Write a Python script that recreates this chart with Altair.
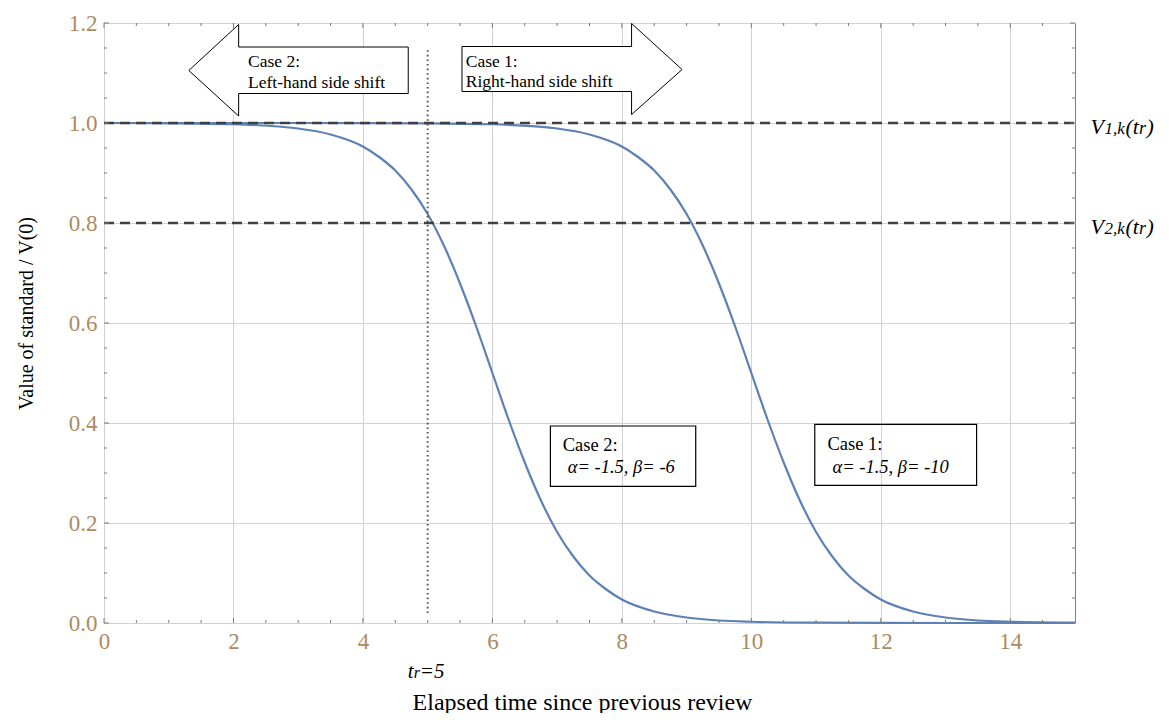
import altair as alt
import pandas as pd

# ---------------- data ----------------
case2_x = [0, 1, 2, 3, 3.5, 4, 4.25, 4.5, 4.75, 5, 5.25, 5.5, 5.75, 6, 6.25, 6.5, 6.75,
           7, 7.25, 7.5, 7.75, 8, 8.5, 9, 9.5, 10, 11, 12, 13, 14, 15]
case2_v = [1.0, 0.9994, 0.9975, 0.989, 0.977, 0.953, 0.932, 0.905, 0.867, 0.818, 0.755,
           0.679, 0.593, 0.5, 0.407, 0.321, 0.245, 0.182, 0.133, 0.095, 0.068, 0.047,
           0.023, 0.011, 0.005, 0.0025, 0.0006, 0.0001, 0.0, 0.0, 0.0]

case1_x = [0, 2, 4, 5, 6, 7, 7.5, 8, 8.25, 8.5, 8.75, 9, 9.25, 9.5, 9.75, 10, 10.25, 10.5,
           10.75, 11, 11.25, 11.5, 11.75, 12, 12.5, 13, 13.5, 14, 15]
case1_v = [1.0, 1.0, 0.9999, 0.9994, 0.9975, 0.989, 0.977, 0.953, 0.932, 0.905, 0.867,
           0.818, 0.755, 0.679, 0.593, 0.5, 0.407, 0.321, 0.245, 0.182, 0.133, 0.095,
           0.068, 0.047, 0.023, 0.011, 0.005, 0.0025, 0.0006]

ref_levels = [1.0, 0.8]
tr_value = 5
dotted_lo, dotted_hi = 0.02, 1.15

x_major = [0, 2, 4, 6, 8, 10, 12, 14]
x_minor = [0.5, 1, 1.5, 2.5, 3, 3.5, 4.5, 5, 5.5, 6.5, 7, 7.5, 8.5, 9, 9.5,
           10.5, 11, 11.5, 12.5, 13, 13.5, 14.5]
y_major = [0, 0.2, 0.4, 0.6, 0.8, 1.0, 1.2]
y_minor = [0.05, 0.1, 0.15, 0.25, 0.3, 0.35, 0.45, 0.5, 0.55, 0.65, 0.7, 0.75,
           0.85, 0.9, 0.95, 1.05, 1.1, 1.15]

# arrows (outline vertices, data units)
left_arrow_x = [4.70, 2.08, 2.08, 1.31, 2.08, 2.08, 4.70, 4.70]
left_arrow_y = [1.152, 1.152, 1.197, 1.105, 1.014, 1.059, 1.059, 1.152]
right_arrow_x = [5.53, 8.15, 8.15, 8.93, 8.15, 8.15, 5.53, 5.53]
right_arrow_y = [1.153, 1.153, 1.199, 1.107, 1.017, 1.063, 1.063, 1.153]

arrow_text = ["Case 2:", "Left-hand side shift", "Case 1:", "Right-hand side shift"]
arrow_text_x = [2.225, 2.225, 5.588, 5.588]
arrow_text_y = [1.113, 1.071, 1.113, 1.072]

box_x1 = [6.896, 10.98]
box_x2 = [9.141, 13.48]
box_y1 = [0.394, 0.3974]
box_y2 = [0.2734, 0.2754]
box_head = ["Case 2:", "Case 1:"]
box_head_x = [7.087, 11.176]
box_head_y = [0.344, 0.3454]
box_param = ["\u03b1= -1.5, \u03b2= -6", "\u03b1= -1.5, \u03b2= -10"]
box_param_x = [7.164, 11.253]
box_param_y = [0.2994, 0.300]

W, H = 971, 600
SERIF = "Liberation Serif"
TICKCOL = "#7a7a7a"
LABELCOL = "#ad8a62"

xs = alt.Scale(domain=[0, 15], nice=False, zero=False)
ys = alt.Scale(domain=[0, 1.2], nice=False, zero=False)

x_axis = alt.Axis(values=x_major, format="d", title="Elapsed time since previous review",
                  grid=True, gridColor="#d2d2d2", gridWidth=1, domain=False, ticks=False,
                  labelFont=SERIF, labelFontSize=23, labelColor=LABELCOL, labelPadding=7,
                  labelFlush=False, labelOverlap=False,
                  titleFont=SERIF, titleFontSize=24, titleFontWeight="normal", titleColor="black",
                  titleX=478, titleY=86, titleBaseline="alphabetic")
y_axis = alt.Axis(values=y_major, format=".1f", title="Value of standard / V(0)",
                  grid=True, gridColor="#d2d2d2", gridWidth=1, domain=False, ticks=False,
                  labelFont=SERIF, labelFontSize=23, labelColor=LABELCOL, labelPadding=7,
                  labelFlush=False, labelOverlap=False,
                  titleFont=SERIF, titleFontSize=20, titleFontWeight="normal", titleColor="black",
                  titleX=-72, titleY=290, titleAngle=270, titleBaseline="alphabetic")


def X(field):
    return alt.X(field, scale=xs, axis=x_axis)


def Y(field):
    return alt.Y(field, scale=ys, axis=y_axis)


curves = pd.concat([
    pd.DataFrame({"x": case2_x, "v": case2_v, "series": "Case 2"}),
    pd.DataFrame({"x": case1_x, "v": case1_v, "series": "Case 1"}),
])

curve_layer = alt.Chart(curves).mark_line(color="#5e81b5", strokeWidth=2.2, interpolate="monotone").encode(
    x=X("x:Q"), y=Y("v:Q"), detail="series:N",
)

ref_df = pd.DataFrame({"lvl": ref_levels})
dashed = alt.Chart(ref_df).mark_rule(color="#404040", strokeWidth=2.3, strokeDash=[10, 6]).encode(
    y=Y("lvl:Q"), x=alt.value(0), x2=alt.value(W),
)

dot_df = pd.DataFrame({"t": [tr_value], "lo": [dotted_lo], "hi": [dotted_hi]})
dotted = alt.Chart(dot_df).mark_rule(color="#555555", strokeWidth=2, strokeDash=[1.6, 3],
                                     strokeCap="butt").encode(
    x=X("t:Q"), y=Y("lo:Q"), y2="hi:Q",
)


def arrow_fill(ax, ay):
    body = pd.DataFrame({"x1": [min(ax[0], ax[1])], "x2": [max(ax[0], ax[1])],
                         "y1": [ay[0]], "y2": [ay[5]]})
    head = pd.DataFrame({"hx": [ax[2], ax[3]], "ht": [ay[2], ay[3]], "hb": [ay[4], ay[3]]})
    b = alt.Chart(body).mark_rect(fill="white").encode(
        x=X("x1:Q"), x2="x2:Q", y=Y("y1:Q"), y2="y2:Q")
    h = alt.Chart(head).mark_area(fill="white", orient="vertical").encode(
        x=X("hx:Q"), y=Y("ht:Q"), y2="hb:Q")
    return [b, h]


arrow_df = pd.concat([
    pd.DataFrame({"ax": left_arrow_x, "ay": left_arrow_y, "i": range(len(left_arrow_x)), "a": "L"}),
    pd.DataFrame({"ax": right_arrow_x, "ay": right_arrow_y, "i": range(len(right_arrow_x)), "a": "R"}),
])
arrow_outline = alt.Chart(arrow_df).mark_line(color="black", strokeWidth=1).encode(
    x=X("ax:Q"), y=Y("ay:Q"), order="i:Q", detail="a:N",
)

arr_txt_df = pd.DataFrame({"t": arrow_text, "x": arrow_text_x, "y": arrow_text_y})
arrow_labels = alt.Chart(arr_txt_df).mark_text(font=SERIF, fontSize=17.5, align="left",
                                               baseline="alphabetic", color="black").encode(
    x=X("x:Q"), y=Y("y:Q"), text="t:N")

box_df = pd.DataFrame({"x1": box_x1, "x2": box_x2, "y1": box_y1, "y2": box_y2})
boxes = alt.Chart(box_df).mark_rect(fillOpacity=0, stroke="black", strokeWidth=1.2).encode(
    x=X("x1:Q"), x2="x2:Q", y=Y("y1:Q"), y2="y2:Q")

bh_df = pd.DataFrame({"t": box_head, "x": box_head_x, "y": box_head_y})
box_heads = alt.Chart(bh_df).mark_text(font=SERIF, fontSize=18.5, align="left",
                                       baseline="alphabetic", color="black").encode(
    x=X("x:Q"), y=Y("y:Q"), text="t:N")
bp_df = pd.DataFrame({"t": box_param, "x": box_param_x, "y": box_param_y})
box_params = alt.Chart(bp_df).mark_text(font=SERIF, fontSize=18.5, fontStyle="italic", align="left",
                                        baseline="alphabetic", color="black").encode(
    x=X("x:Q"), y=Y("y:Q"), text="t:N")

# right-hand labels V1,k(tr), V2,k(tr) and the tr=5 label built from pieces
v_label_x = 15.24
v_label_y = [0.979, 0.779]
v_sub = ["1,k", "2,k"]
pieces = []
for yy, sub in zip(v_label_y, v_sub):
    pieces += [("V", 22, 0, yy), (sub, 17, 14, yy), ("(t", 22, 35, yy), ("r", 18, 48.5, yy), (")", 22, 56, yy)]
tr_label_x = 4.692
tr_label_y = -0.11
pieces += [("t", 21, 0, tr_label_y, tr_label_x), ("r", 16, 6, tr_label_y, tr_label_x),
           ("=5", 21, 12, tr_label_y, tr_label_x)]

piece_layers = []
for p in pieces:
    txt, fs, dx, yy = p[0], p[1], p[2], p[3]
    xx = p[4] if len(p) > 4 else v_label_x
    df = pd.DataFrame({"x": [xx], "y": [yy], "t": [txt]})
    piece_layers.append(alt.Chart(df).mark_text(font=SERIF, fontSize=fs, fontStyle="italic",
                                                align="left", baseline="alphabetic", dx=dx,
                                                color="black").encode(
        x=X("x:Q"), y=Y("y:Q"), text="t:N"))


def xticks(vals, length):
    df = pd.DataFrame({"t": vals})
    bot = alt.Chart(df).mark_rule(color=TICKCOL, strokeWidth=1).encode(
        x=X("t:Q"), y=alt.value(H), y2=alt.value(H - length))
    top = alt.Chart(df).mark_rule(color=TICKCOL, strokeWidth=1).encode(
        x=X("t:Q"), y=alt.value(0), y2=alt.value(length))
    return [bot, top]


def yticks(vals, length):
    df = pd.DataFrame({"t": vals})
    lft = alt.Chart(df).mark_rule(color=TICKCOL, strokeWidth=1).encode(
        y=Y("t:Q"), x=alt.value(0), x2=alt.value(length))
    rgt = alt.Chart(df).mark_rule(color=TICKCOL, strokeWidth=1).encode(
        y=Y("t:Q"), x=alt.value(W), x2=alt.value(W - length))
    return [lft, rgt]


layers = ([curve_layer, dashed, dotted]
          + arrow_fill(left_arrow_x, left_arrow_y) + arrow_fill(right_arrow_x, right_arrow_y)
          + [arrow_outline, arrow_labels, boxes, box_heads, box_params]
          + xticks(x_major, 5) + xticks(x_minor, 3) + yticks(y_major, 5) + yticks(y_minor, 3)
          + piece_layers)

chart = alt.layer(*layers).properties(
    width=W, height=H,
    autosize=alt.AutoSizeParams(type="none"),
    padding={"left": 96, "top": 15, "right": 86, "bottom": 90},
    background="white",
).configure_view(stroke="#808080", strokeWidth=1)

chart.save("out.html", embed_options={"renderer": "svg", "actions": False})
